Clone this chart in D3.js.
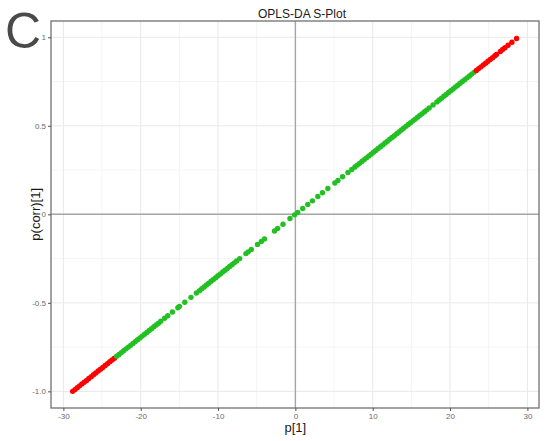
<!DOCTYPE html>
<html>
<head>
<meta charset="utf-8">
<script src="https://cdn.jsdelivr.net/npm/d3@7"></script>
<style>
  html, body { margin: 0; padding: 0; background: #fff; }
  svg { display: block; font-family: "Liberation Sans", Arial, sans-serif; }
</style>
</head>
<body>
<svg id="chart" width="550" height="441"></svg>
<script>
// ---- data ----
const p1 = [
  -28.8,-28.5,-28.2,-27.9,-27.6,-27.3,-27.0,-26.7,-26.4,-26.1,-25.8,-25.5,-25.2,-24.9,-24.6,-24.3,-24.0,-23.7,-23.4,
  -23.1,-22.8,-22.5,-22.2,-21.9,-21.6,-21.3,-21.0,-20.7,-20.4,-20.1,-19.8,-19.5,-19.2,-18.9,-18.6,-18.3,-18.0,-17.7,-17.4,
  -16.9,-16.5,-15.9,-15.2,-15.0,-14.3,-13.5,-12.8,
  -12.4,-12.1,-11.8,-11.5,-11.2,-10.9,-10.6,-10.3,-10.0,-9.7,-9.4,-9.1,-8.8,-8.5,-8.2,-7.9,-7.6,
  -7.2,-6.4,-6.1,-5.7,-4.9,-4.4,-4.0,-2.7,-2.3,-1.6,-0.7,-0.1,
  0.3,0.95,1.6,2.2,2.9,3.5,4.2,5.1,5.5,6.1,6.8,7.3,7.7,
  8.0,8.3,8.6,8.9,9.2,9.5,9.8,10.1,10.4,10.7,11.0,11.3,11.6,11.9,12.2,12.5,12.8,13.1,13.4,13.7,14.0,14.3,14.6,14.9,
  15.2,15.5,15.8,16.1,16.4,16.7,17.0,17.3,17.8,18.3,18.6,18.9,19.2,19.5,19.8,20.1,20.4,20.7,21.0,21.3,21.6,21.9,22.2,22.5,22.8,23.1,
  23.4,23.7,24.0,24.3,24.6,24.9,25.2,25.5,25.8,26.0,26.5,26.8,27.1,27.5,28.0,28.6
];
const pcorr = [
  -1.000,-0.990,-0.979,-0.969,-0.958,-0.948,-0.938,-0.927,-0.917,-0.906,-0.896,-0.885,-0.875,-0.865,-0.854,-0.844,-0.833,-0.823,-0.813,
  -0.802,-0.792,-0.781,-0.771,-0.760,-0.750,-0.740,-0.729,-0.719,-0.708,-0.698,-0.688,-0.677,-0.667,-0.656,-0.646,-0.635,-0.625,-0.615,-0.604,
  -0.587,-0.573,-0.552,-0.528,-0.521,-0.497,-0.469,-0.444,
  -0.431,-0.420,-0.410,-0.399,-0.389,-0.378,-0.368,-0.358,-0.347,-0.337,-0.326,-0.316,-0.306,-0.295,-0.285,-0.274,-0.264,
  -0.250,-0.222,-0.212,-0.198,-0.170,-0.153,-0.139,-0.094,-0.080,-0.056,-0.024,-0.003,
  0.010,0.033,0.056,0.076,0.101,0.122,0.146,0.177,0.191,0.212,0.236,0.253,0.267,
  0.278,0.288,0.299,0.309,0.319,0.330,0.340,0.351,0.361,0.372,0.382,0.392,0.403,0.413,0.424,0.434,0.444,0.455,0.465,0.476,0.486,0.497,0.507,0.517,
  0.528,0.538,0.549,0.559,0.569,0.580,0.590,0.601,0.618,0.635,0.646,0.656,0.667,0.677,0.688,0.698,0.708,0.719,0.729,0.740,0.750,0.760,0.771,0.781,0.792,0.802,
  0.813,0.823,0.833,0.844,0.854,0.865,0.875,0.885,0.896,0.903,0.920,0.931,0.941,0.955,0.972,0.993
];
const corrThreshold = 0.81;
const xTicks = [-30, -20, -10, 0, 10, 20, 30];
const xTickLabels = ["-30", "-20", "-10", "0", "10", "20", "30"];
const xMinor = [-25, -15, -5, 5, 15, 25];
const yTicks = [-1, -0.5, 0, 0.5, 1];
const yTickLabels = ["-1.0", "-0.5", "0", "0.5", "1"];
const yMinor = [-0.75, -0.25, 0.25, 0.75];
const title = "OPLS-DA S-Plot";
const xLabel = "p[1]";
const yLabel = "p(corr)[1]";
const panelLetter = "C";

// ---- layout ----
const svg = d3.select("#chart");
const P = { left: 51, right: 539, top: 21, bottom: 408 };
const x = d3.scaleLinear().domain([-31.6, 31.5]).range([P.left, P.right]);
const y = d3.scaleLinear().domain([-1.094, 1.092]).range([P.bottom, P.top]);

svg.append("rect").attr("width", 550).attr("height", 441).attr("fill", "#fff");

// grid
const g = svg.append("g");
g.selectAll(".xmin").data(xMinor).join("line")
  .attr("x1", d => x(d)).attr("x2", d => x(d)).attr("y1", P.top).attr("y2", P.bottom)
  .attr("stroke", "#f3f3f3").attr("stroke-width", 0.8);
g.selectAll(".ymin").data(yMinor).join("line")
  .attr("y1", d => y(d)).attr("y2", d => y(d)).attr("x1", P.left).attr("x2", P.right)
  .attr("stroke", "#f3f3f3").attr("stroke-width", 0.8);
g.selectAll(".xmaj").data(xTicks).join("line")
  .attr("x1", d => x(d)).attr("x2", d => x(d)).attr("y1", P.top).attr("y2", P.bottom)
  .attr("stroke", "#e8e8e8").attr("stroke-width", 1);
g.selectAll(".ymaj").data(yTicks).join("line")
  .attr("y1", d => y(d)).attr("y2", d => y(d)).attr("x1", P.left).attr("x2", P.right)
  .attr("stroke", "#e8e8e8").attr("stroke-width", 1);

// zero lines
g.append("line").attr("x1", x(0)).attr("x2", x(0)).attr("y1", P.top).attr("y2", P.bottom)
  .attr("stroke", "#a6a6a6").attr("stroke-width", 1.4);
g.append("line").attr("y1", y(0)).attr("y2", y(0)).attr("x1", P.left).attr("x2", P.right)
  .attr("stroke", "#a6a6a6").attr("stroke-width", 1.4);

// points
const pts = p1.map((v, i) => ({ p: v, c: pcorr[i] }));
svg.append("g").selectAll("circle").data(pts).join("circle")
  .attr("cx", d => x(d.p)).attr("cy", d => y(d.c)).attr("r", 2.7)
  .attr("fill", d => Math.abs(d.c) >= corrThreshold ? "#ff0000" : "#22c022");

// panel border
svg.append("rect").attr("x", P.left).attr("y", P.top)
  .attr("width", P.right - P.left).attr("height", P.bottom - P.top)
  .attr("fill", "none").attr("stroke", "#707070").attr("stroke-width", 1.3);

// axes
const xAxis = d3.axisBottom(x).tickValues(xTicks).tickFormat((d, i) => xTickLabels[i]).tickSize(3).tickPadding(2);
const yAxis = d3.axisLeft(y).tickValues(yTicks).tickFormat((d, i) => yTickLabels[i]).tickSize(3).tickPadding(2);
const gx = svg.append("g").attr("transform", `translate(0,${P.bottom})`).call(xAxis);
const gy = svg.append("g").attr("transform", `translate(${P.left},0)`).call(yAxis);
[gx, gy].forEach(a => {
  a.select(".domain").remove();
  a.selectAll(".tick line").attr("stroke", "#555").attr("stroke-width", 1);
  a.selectAll(".tick text").attr("fill", "#6a6a6a").style("font-size", "8px")
    .style("font-family", "'Liberation Sans', Arial, sans-serif");
});

// labels
svg.append("text").attr("x", 302).attr("y", 18).attr("text-anchor", "middle")
  .style("font-size", "12px").attr("fill", "#1a1a1a").text(title);
svg.append("text").attr("x", x(0)).attr("y", 432).attr("text-anchor", "middle")
  .style("font-size", "13px").attr("fill", "#1a1a1a").text(xLabel);
svg.append("text").attr("transform", `translate(40,${y(0)}) rotate(-90)`).attr("text-anchor", "middle")
  .style("font-size", "13px").attr("fill", "#1a1a1a").text(yLabel);
svg.append("text").attr("x", 5).attr("y", 48)
  .style("font-size", "50px").attr("fill", "#4a4a4a").text(panelLetter);
</script>
</body>
</html>
